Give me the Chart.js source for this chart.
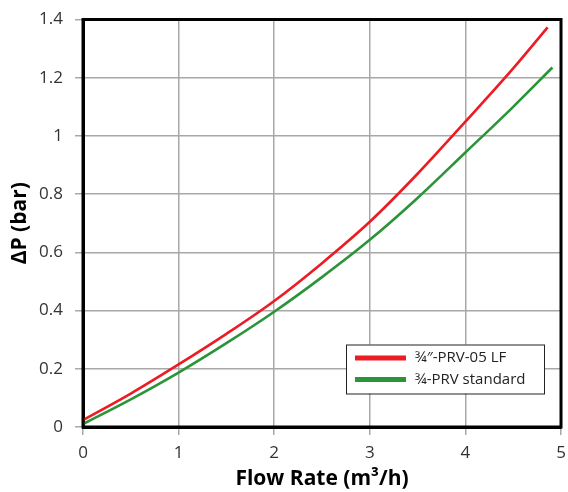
<!DOCTYPE html>
<html>
<head>
<meta charset="utf-8">
<script src="https://cdn.jsdelivr.net/npm/chart.js@4.4.1/dist/chart.umd.min.js"></script>
<style>
html,body{margin:0;padding:0;background:#fff;}
#wrap{position:relative;width:568px;height:492px;}
</style>
</head>
<body>
<div id="wrap"><canvas id="c" width="568" height="492"></canvas></div>
<script>
// Data
const seriesNames = ['¾″-PRV-05 LF', '¾-PRV standard'];
const lfFlow = [0, 0.5, 1, 1.5, 2, 2.5, 3, 3.5, 4, 4.5, 4.86];
const lfDp   = [0.024, 0.115, 0.215, 0.32, 0.433, 0.563, 0.705, 0.87, 1.049, 1.232, 1.373];
const stdFlow = [0, 0.5, 1, 1.5, 2, 2.5, 3, 3.5, 4, 4.5, 4.91];
const stdDp   = [0.01, 0.095, 0.187, 0.288, 0.396, 0.515, 0.643, 0.787, 0.943, 1.1, 1.235];
const xTicks = [0, 1, 2, 3, 4, 5];
const xTickLabels = ['0', '1', '2', '3', '4', '5'];
const yTicks = [0, 0.2, 0.4, 0.6, 0.8, 1, 1.2, 1.4];
const yTickLabels = ['0', '0.2', '0.4', '0.6', '0.8', '1', '1.2', '1.4'];

const RED = '#ec1c24', GREEN = '#2b9438';
const FONT = "'Open Sans', 'DejaVu Sans', sans-serif";

const toPts = (xs, ys) => xs.map((x, i) => ({x: x, y: ys[i]}));

const framePlugin = {
  id: 'frame',
  afterDatasetsDraw(chart) {
    const {ctx, chartArea: a} = chart;
    ctx.save();
    ctx.strokeStyle = '#000';
    ctx.lineWidth = 3;
    ctx.strokeRect(a.left, a.top, a.right - a.left, a.bottom - a.top);
    // legend box
    const bx = 346, by = 344.5, bw = 198, bh = 49;
    ctx.fillStyle = '#fff';
    ctx.fillRect(bx, by, bw, bh);
    ctx.lineWidth = 1;
    ctx.strokeStyle = '#222';
    ctx.strokeRect(bx + 0.5, by + 0.5, bw, bh);
    chart.data.datasets.forEach((ds, i) => {
      const y = 358 + i * 21.5;
      ctx.strokeStyle = ds.borderColor;
      ctx.lineWidth = 5;
      ctx.beginPath();
      ctx.moveTo(355, y);
      ctx.lineTo(406, y);
      ctx.stroke();
      ctx.fillStyle = '#222';
      ctx.font = "15px " + FONT;
      ctx.textBaseline = 'middle';
      ctx.textAlign = 'left';
      ctx.fillText(ds.label, 415, y);
    });
    ctx.restore();
  }
};

new Chart(document.getElementById('c'), {
  type: 'line',
  data: {
    datasets: [
      {label: seriesNames[0], data: toPts(lfFlow, lfDp), borderColor: RED, borderWidth: 2.6, pointRadius: 0, cubicInterpolationMode: 'monotone', fill: false},
      {label: seriesNames[1], data: toPts(stdFlow, stdDp), borderColor: GREEN, borderWidth: 2.6, pointRadius: 0, cubicInterpolationMode: 'monotone', fill: false}
    ]
  },
  options: {
    responsive: false,
    animation: false,
    layout: {padding: {left: 0, right: 7, top: 19.5, bottom: 0}},
    plugins: {legend: {display: false}, tooltip: {enabled: false}},
    scales: {
      x: {
        type: 'linear', min: 0, max: 5,
        afterBuildTicks: s => { s.ticks = xTicks.map(v => ({value: v})); },
        afterFit: s => { s.height = 65; s.paddingLeft = 0; s.paddingRight = 0; },
        grid: {color: '#a8a8a8', lineWidth: 1.5, tickLength: 8, tickColor: '#a8a8a8'},
        border: {color: '#000', width: 3},
        ticks: {color: '#333', font: {family: FONT, size: 17}, padding: 8, maxRotation: 0,
                callback: (v, i) => xTickLabels[i]},
        title: {display: true, text: 'Flow Rate (m³/h)', color: '#000', font: {family: FONT, size: 21, weight: 'bold'}, padding: {top: 0, bottom: 0}}
      },
      y: {
        type: 'linear', min: 0, max: 1.4,
        afterBuildTicks: s => { s.ticks = yTicks.map(v => ({value: v})); },
        afterFit: s => { s.width = 83; s.paddingTop = 0; s.paddingBottom = 0; },
        grid: {color: '#a8a8a8', lineWidth: 1.5, tickLength: 8, tickColor: '#a8a8a8'},
        border: {color: '#000', width: 3},
        ticks: {color: '#333', font: {family: FONT, size: 17}, padding: 12,
                callback: (v, i) => yTickLabels[i]},
        title: {display: true, text: 'ΔP (bar)', color: '#000', font: {family: FONT, size: 21, weight: 'bold'}, padding: {top: 7, bottom: 0}}
      }
    }
  },
  plugins: [framePlugin]
});
</script>
</body>
</html>
